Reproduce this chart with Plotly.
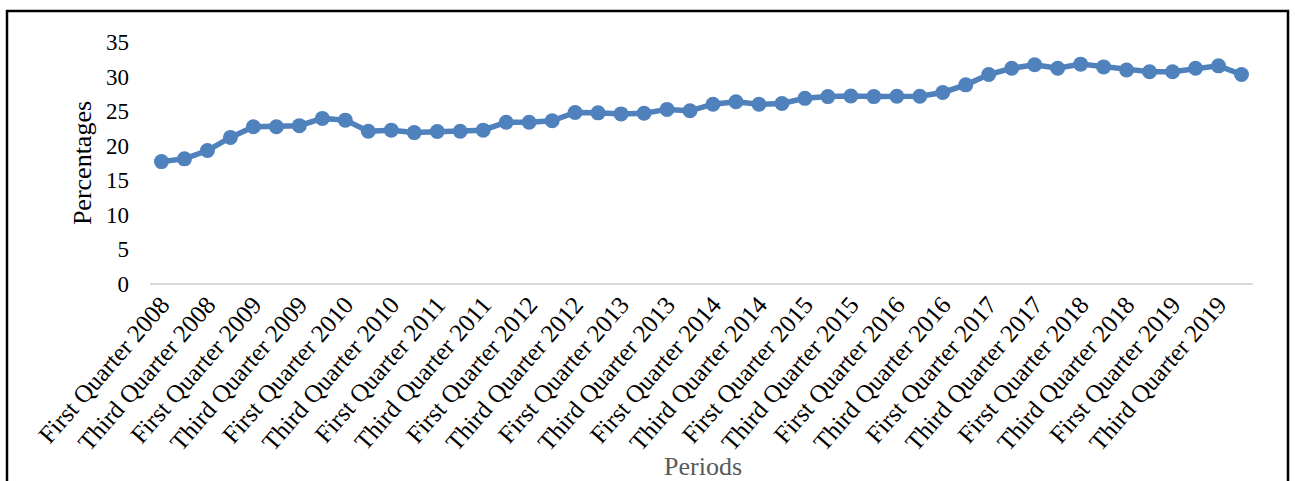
import plotly.graph_objects as go

# Quarterly periods, 2008 Q1 to 2019 Q4
quarter_names = ["First Quarter", "Second Quarter", "Third Quarter", "Fourth Quarter"]
years = list(range(2008, 2020))
periods = [f"{q} {y}" for y in years for q in quarter_names]

# Share (%) for each quarter
percentages = [
    17.7, 18.1, 19.3, 21.2, 22.75, 22.75, 22.9, 23.95, 23.7, 22.1,
    22.25, 21.9, 22.05, 22.1, 22.25, 23.4, 23.4, 23.6, 24.8, 24.75,
    24.6, 24.7, 25.25, 25.05, 26.0, 26.35, 26.0, 26.1, 26.85, 27.1,
    27.2, 27.1, 27.15, 27.15, 27.7, 28.8, 30.3, 31.2, 31.7, 31.2,
    31.8, 31.4, 30.95, 30.7, 30.7, 31.2, 31.55, 30.3,
]

# Only every other period gets a label on the category axis
tick_periods = periods[::2]
y_ticks = [0, 5, 10, 15, 20, 25, 30, 35]

W, H = 1295, 481
ML, MR, MT, MB = 150, 42, 42, 197
pw, ph = W - ML - MR, H - MT - MB

def px_x(x):
    return (x - ML) / pw

def px_y(y):
    return (H - MB - y) / ph

FONT = "Liberation Serif"
BLUE = "#4F81BD"

fig = go.Figure(
    go.Scatter(
        x=periods,
        y=percentages,
        mode="lines+markers",
        line=dict(color=BLUE, width=5.5),
        marker=dict(color=BLUE, size=15),
        cliponaxis=False,
        hoverinfo="x+y",
    )
)

fig.update_layout(
    width=W,
    height=H,
    margin=dict(l=ML, r=MR, t=MT, b=MB, pad=0),
    paper_bgcolor="white",
    plot_bgcolor="white",
    showlegend=False,
    font=dict(family=FONT, color="black", size=23),
    xaxis=dict(
        type="category",
        categoryorder="array",
        categoryarray=periods,
        range=[-0.5, len(periods) - 0.5],
        tickmode="array",
        tickvals=tick_periods,
        ticktext=tick_periods,
        tickangle=-49,
        tickfont=dict(family=FONT, size=25, color="black"),
        showgrid=False,
        showline=False,
        zeroline=False,
        ticks="",
    ),
    yaxis=dict(
        range=[0, 35],
        tickmode="array",
        tickvals=y_ticks,
        tickfont=dict(family=FONT, size=23, color="black"),
        showgrid=False,
        showline=False,
        zeroline=True,
        zerolinecolor="#D9D9D9",
        zerolinewidth=2,
        ticks="",
        ticklabelstandoff=20,
        title=dict(text="Percentages", font=dict(family=FONT, size=26, color="black"), standoff=6),
    ),
    annotations=[
        dict(
            text="Periods",
            xref="paper", yref="paper",
            x=px_x(703), y=px_y(466),
            xanchor="center", yanchor="middle",
            showarrow=False,
            font=dict(family=FONT, size=26, color="#595959"),
        )
    ],
    shapes=[
        dict(
            type="rect",
            xref="paper", yref="paper",
            x0=px_x(7), x1=px_x(1288),
            y0=px_y(495), y1=px_y(11),
            line=dict(color="black", width=2.5),
            fillcolor="rgba(0,0,0,0)",
            layer="above",
        )
    ],
)

fig.write_html("out.html")
